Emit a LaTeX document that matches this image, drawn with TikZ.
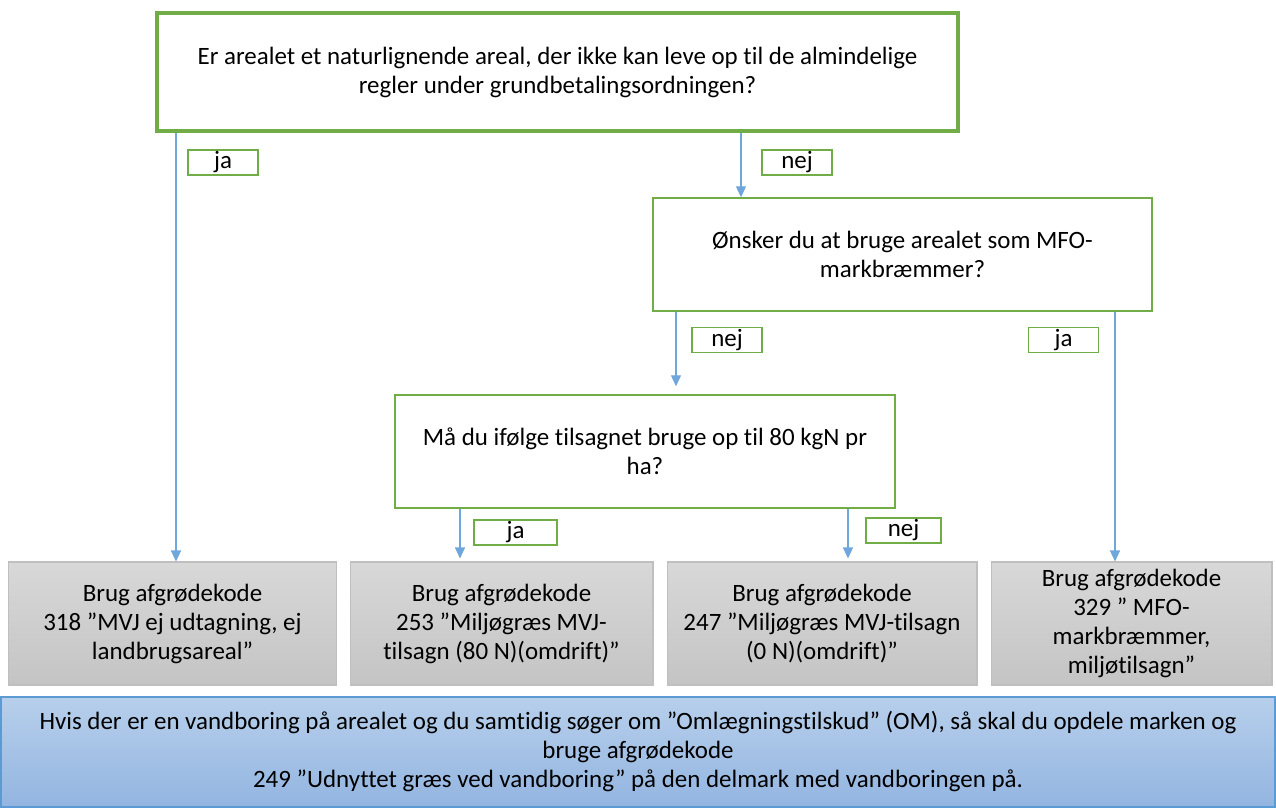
\documentclass[tikz,border=0pt]{standalone}
\usepackage{fontspec}
\setmainfont{Carlito}[Ligatures=NoCommon]
\usepackage{tikz}
\usetikzlibrary{arrows.meta}
\definecolor{boxgreen}{HTML}{70AD47}
\definecolor{arrowblue}{HTML}{6FA6DC}
\definecolor{framegray}{HTML}{BFBFBF}
\definecolor{framblue}{HTML}{5B9BD5}
\definecolor{notetop}{HTML}{B7CFEB}
\definecolor{notebottom}{HTML}{93B5E1}
\definecolor{graytop}{HTML}{D8D8D8}
\definecolor{graybottom}{HTML}{C4C4C4}

\tikzset{
  question/.style={draw=boxgreen, line width=0.8pt, rectangle, align=center, minimum width=10cm, minimum height=2.26cm},
  answer/.style={draw=boxgreen, line width=0.6pt, rectangle, minimum width=1.4cm, minimum height=0.5cm, inner sep=0pt},
  result/.style={draw=framegray, line width=0.6pt, rectangle, align=center, top color=graytop, bottom color=graybottom, minimum height=2.46cm},
  arr/.style={draw=arrowblue, line width=0.6pt, -{Triangle[length=0.22cm, width=0.2cm]}}
}

\begin{document}
\begin{tikzpicture}[x=0.02cm, y=-0.02cm, font=\fontsize{14.2}{16.5}\selectfont]
            \useasboundingbox (0,0) rectangle (1276,808);
            % Nodes
            \node [question, line width=2.3pt, minimum width=16.02cm, minimum height=2.36cm] (start) at (557.5,72) {Er arealet et naturlignende areal, der ikke kan leve op til de almindelige\\regler under grundbetalingsordningen?};
            \node [question, minimum width=9.98cm] (mfo) at (902.5,254.5) {Ønsker du at bruge arealet som MFO-\\markbræmmer?};
            \node [question] (kgn) at (645,451.5) {Må du ifølge tilsagnet bruge op til 80 kgN pr\\ha?};

            \node [result, minimum width=6.58cm] (code318) at (172.5,623.5) {Brug afgrødekode\\318 ”MVJ ej udtagning, ej\\landbrugsareal”};
            \node [result, minimum width=6.06cm] (code253) at (501.5,623.5) {Brug afgrødekode\\253 ”Miljøgræs MVJ-\\tilsagn (80 N)(omdrift)”};
            \node [result, minimum width=6.2cm] (code247) at (822,623.5) {Brug afgrødekode\\247 ”Miljøgræs MVJ-tilsagn\\(0 N)(omdrift)”};
            \node [result, minimum width=5.62cm] (code329) at (1131.5,623.5) {Brug afgrødekode\\329 ” MFO-\\markbræmmer,\\miljøtilsagn”};

            \node [draw=framblue, line width=0.8pt, rectangle, align=center, top color=notetop, bottom color=notebottom, minimum width=25.48cm, minimum height=2.2cm] (note) at (638,752) {Hvis der er en vandboring på arealet og du samtidig søger om ”Omlægningstilskud” (OM), så skal du opdele marken og\\bruge afgrødekode\\249 ”Udnyttet græs ved vandboring” på den delmark med vandboringen på.};

            % Labels
            \node [answer] (ja1) at (223,162.5) {ja};
            \node [answer] (nej1) at (797,162.5) {nej};
            \node [answer] (nej2) at (727,340) {nej};
            \node [answer] (ja2) at (1063.5,340) {ja};
            \node [answer, minimum width=1.66cm] (ja3) at (515.5,532.5) {ja};
            \node [answer, minimum width=1.5cm] (nej3) at (903.5,530.5) {nej};

            % Arrows
            \draw [arr] (start.south -| 176,0) -- (code318.north -| 176,0);
            \draw [arr] (start.south -| 741,0) -- (mfo.north -| 741,0);
            \draw [arr, shorten >=0.16cm] (mfo.south -| 676,0) -- (kgn.north -| 676,0);
            \draw [arr] (mfo.south -| 1115,0) -- (code329.north -| 1115,0);
            \draw [arr, shorten >=0.06cm] (kgn.south -| 460,0) -- (code253.north -| 460,0);
            \draw [arr, shorten >=0.06cm] (kgn.south -| 848,0) -- (code247.north -| 848,0);

        \end{tikzpicture}
\end{document}
